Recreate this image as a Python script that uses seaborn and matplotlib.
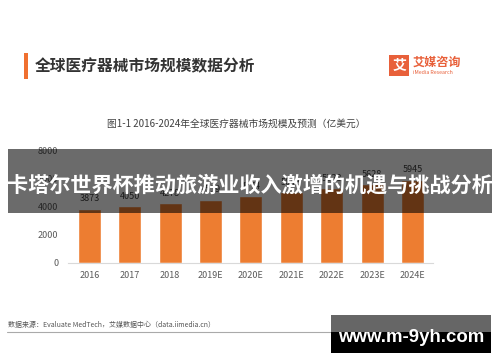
import matplotlib
matplotlib.use("Agg")
import matplotlib.pyplot as plt
import pandas as pd
import seaborn as sns
from matplotlib.patches import Rectangle

# ============================
# DATOS
# ============================
years = ["2016", "2017", "2018", "2019E", "2020E", "2021E", "2022E", "2023E", "2024E"]
market_size = [3873, 4050, 4278, 4519, 4774, 5043, 5328, 5628, 5945]
y_ticks = [0, 2000, 4000, 6000, 8000]

title = "全球医疗器械市场规模数据分析"
subtitle = "图1-1 2016-2024年全球医疗器械市场规模及预测（亿美元）"
banner = "卡塔尔世界杯推动旅游业收入激增的机遇与挑战分析"
source = "数据来源：Evaluate MedTech，艾媒数据中心（data.iimedia.cn）"
watermark = "www.m-9yh.com"

df = pd.DataFrame({"year": years, "size": market_size})

# ============================
# CONFIGURACIÓN
# ============================
sns.set_theme(style="white")
plt.rcParams["font.family"] = ["Noto Sans CJK SC", "DejaVu Sans"]

W, H = 500, 362
fig = plt.figure(figsize=(W / 100, H / 100), dpi=100)
fig.patch.set_facecolor("white")


def fx(x):
    return x / W


def fy(y):
    return 1 - y / H


# ============================
# GRÁFICO
# ============================
ax = fig.add_axes([fx(68), fy(263), fx(433) - fx(68), fy(151) - fy(263)])
sns.barplot(data=df, x="year", y="size", color="#ED7D31", width=0.57,
            saturation=1, ax=ax)
ax.set_xlim(-0.53, 8.51)
ax.set_ylim(0, 8000)
ax.set_yticks(y_ticks)
ax.set_xlabel("")
ax.set_ylabel("")
ax.tick_params(axis="both", labelsize=6.5, labelcolor="#595959", length=0)
ax.tick_params(axis="y", pad=7)
ax.tick_params(axis="x", pad=6)
for s in ["top", "right", "left"]:
    ax.spines[s].set_visible(False)
ax.spines["bottom"].set_color("#D9D9D9")
ax.spines["bottom"].set_linewidth(0.8)

for i, v in enumerate(market_size):
    ax.annotate(str(v), (i, v), xytext=(0, 4), textcoords="offset points",
                ha="center", va="bottom", fontsize=6.5, color="#404040")

# ============================
# ENCABEZADO
# ============================
fig.add_artist(Rectangle((fx(24), fy(79)), fx(4), fy(53) - fy(79),
                         transform=fig.transFigure, color="#F07030", lw=0))
fig.text(fx(35), fy(66), title, fontsize=11.3, fontweight="bold",
         color="#333333", va="center", ha="left")

fig.add_artist(Rectangle((fx(389), fy(76)), fx(20), fy(55) - fy(76),
                         transform=fig.transFigure, color="#E8603A", lw=0))
fig.text(fx(399), fy(65.5), "艾", fontsize=10, fontweight="bold",
         color="white", ha="center", va="center")
fig.text(fx(413), fy(62), "艾媒咨询", fontsize=8.7, fontweight="bold",
         color="#E8603A", ha="left", va="center")
fig.text(fx(413), fy(72.5), "iMedia Research", fontsize=3.8,
         color="#E8603A", ha="left", va="center")

fig.text(fx(236), fy(124), subtitle, fontsize=7, color="#404040",
         ha="center", va="center")

# ============================
# PIE DE PÁGINA
# ============================
fig.text(fx(8), fy(325), source, fontsize=5.0, color="#555555",
         ha="left", va="center")
fig.add_artist(plt.Line2D([fx(7), fx(332)], [fy(332), fy(332)],
                          transform=fig.transFigure, color="#AAAAAA", lw=0.8))

# ============================
# BANNER Y MARCA DE AGUA
# ============================
fig.add_artist(Rectangle((fx(8), fy(213)), fx(492) - fx(8), fy(149) - fy(213),
                         transform=fig.transFigure, color="black", alpha=0.58,
                         lw=0, zorder=5))
fig.text(fx(250), fy(185), banner, fontsize=15.2, fontweight="bold",
         color="white", ha="center", va="center", zorder=6)

fig.add_artist(Rectangle((fx(331), fy(332)), fx(160), fy(315) - fy(332),
                         transform=fig.transFigure, color="#666666", lw=0,
                         zorder=5))
fig.add_artist(Rectangle((fx(331), fy(353)), fx(160), fy(332) - fy(353),
                         transform=fig.transFigure, color="black", lw=0,
                         zorder=5))
fig.text(fx(411), fy(338), watermark, fontsize=13.4, fontweight="bold",
         family="Liberation Sans", color="white", ha="center", va="center",
         zorder=6)

fig.savefig("out.png", dpi=100)
